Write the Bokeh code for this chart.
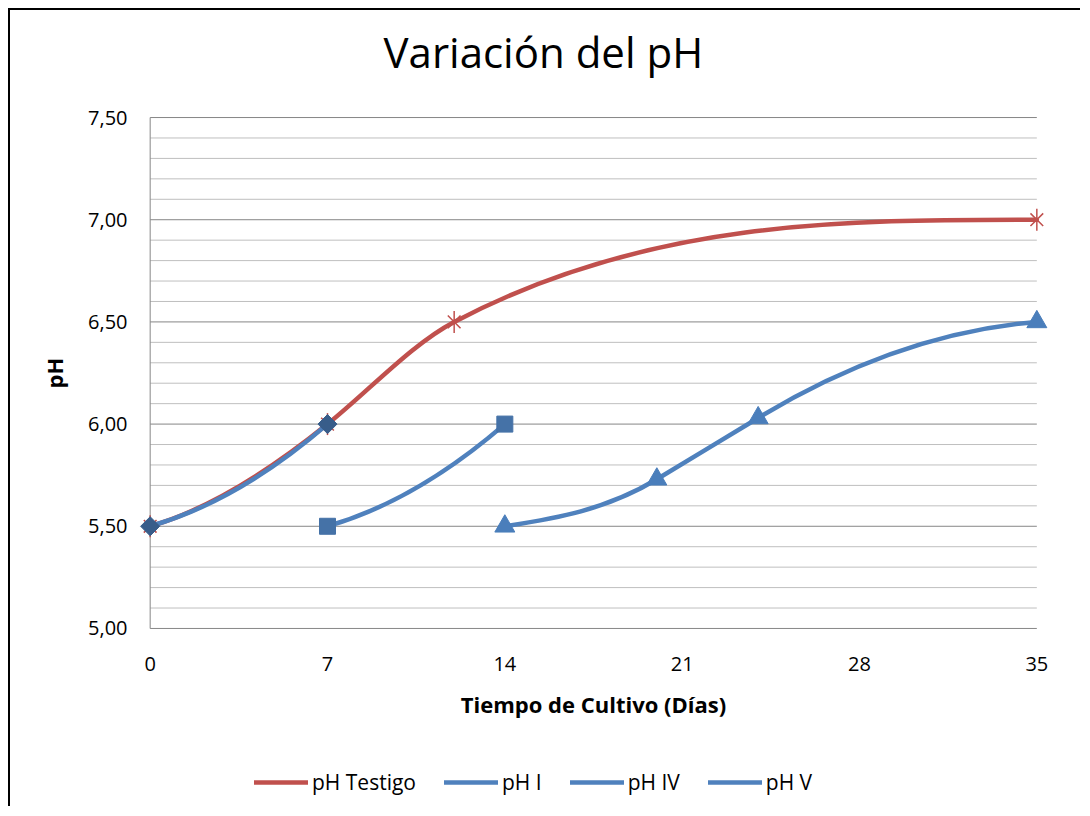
import math
from bokeh.plotting import figure
from bokeh.layouts import column
from bokeh.models import (Range1d, FixedTicker, CustomJSTickFormatter, Legend,
                          LegendItem)
from bokeh.embed import file_html
from bokeh.resources import INLINE

# ---------------- data ----------------
dias_testigo = [0, 7, 12, 35]
ph_testigo = [5.50, 6.00, 6.50, 7.00]

dias_I = [0, 7]
ph_I = [5.50, 6.00]

dias_IV = [7, 14]
ph_IV = [5.50, 6.00]

dias_V = [14, 20, 24, 35]
ph_V = [5.50, 5.73, 6.03, 6.50]

series_names = ["pH Testigo", "pH I", "pH IV", "pH V"]
x_ticks = [0, 7, 14, 21, 28, 35]
y_ticks = [5.0, 5.5, 6.0, 6.5, 7.0, 7.5]
y_minor_step = 0.1

# ---------------- styling ----------------
RED = "#C0504D"
BLUE = "#4F81BD"
FONT = "Open Sans"
LW = 4.5


def smooth_segments(xs, ys):
    """Cubic Bezier segments for a smoothed line through the points
    (monotone Hermite tangents, Fritsch-Carlson limited)."""
    n = len(xs)
    h = [xs[i + 1] - xs[i] for i in range(n - 1)]
    c = [(ys[i + 1] - ys[i]) / h[i] for i in range(n - 1)]
    s = [0.0] * n
    s[0] = 0.5 * c[0]
    for i in range(1, n - 1):
        s[i] = max(c[i - 1], c[i])
    s[n - 1] = max(0.0, 2 * c[-1] - s[n - 2])
    for i in range(n - 1):
        if c[i] == 0:
            s[i] = s[i + 1] = 0.0
            continue
        a, b = s[i] / c[i], s[i + 1] / c[i]
        r = a * a + b * b
        if r > 9:
            t = 3 / math.sqrt(r)
            s[i], s[i + 1] = t * a * c[i], t * b * c[i]
    seg = dict(x0=[], y0=[], x1=[], y1=[], cx0=[], cy0=[], cx1=[], cy1=[])
    for i in range(n - 1):
        d = h[i] / 3
        seg["x0"].append(xs[i]); seg["y0"].append(ys[i])
        seg["x1"].append(xs[i + 1]); seg["y1"].append(ys[i + 1])
        seg["cx0"].append(xs[i] + d); seg["cy0"].append(ys[i] + s[i] * d)
        seg["cx1"].append(xs[i + 1] - d); seg["cy1"].append(ys[i + 1] - s[i + 1] * d)
    return seg


p = figure(frame_width=912, frame_height=515,
           x_range=Range1d(x_ticks[0] - 0.5, x_ticks[-1] + 0.5),
           y_range=Range1d(y_ticks[0] - 0.01, y_ticks[-1] + 0.01),
           min_border_left=127, min_border_right=31,
           min_border_top=105, min_border_bottom=100,
           output_backend="svg", toolbar_location=None,
           title="Variación del pH")
p.outline_line_color = None
p.background_fill_color = "white"
p.border_fill_color = "white"
p.xgrid.visible = False
p.ygrid.visible = False

# title
p.title.text_font = FONT
p.title.text_font_size = "42px"
p.title.text_font_style = "normal"
p.title.text_color = "black"
p.title.align = "left"
p.title.offset = 246
p.title.standoff = 16
p.title.padding = (0, 0, 0, 28)

# gridlines (horizontal, between first and last x tick)
n_minor = int(round((y_ticks[-1] - y_ticks[0]) / y_minor_step))
minor_y = [y_ticks[0] + k * y_minor_step for k in range(n_minor + 1)]
minor_y = [v for v in minor_y if min(abs(v - t) for t in y_ticks) > 1e-6]
p.segment(x0=[x_ticks[0]] * len(minor_y), x1=[x_ticks[-1]] * len(minor_y),
          y0=minor_y, y1=minor_y, line_color="#BFBFBF", line_width=1)
p.segment(x0=[x_ticks[0]] * len(y_ticks), x1=[x_ticks[-1]] * len(y_ticks),
          y0=y_ticks, y1=y_ticks, line_color="#868686", line_width=1)
p.segment(x0=[x_ticks[0]], x1=[x_ticks[0]], y0=[y_ticks[0]], y1=[y_ticks[-1]],
          line_color="#868686", line_width=1)

# axes
for ax in (p.xaxis[0], p.yaxis[0]):
    ax.axis_line_color = None
    ax.major_tick_line_color = None
    ax.minor_tick_line_color = None
    ax.major_tick_out = 0
    ax.major_tick_in = 0
    ax.major_label_text_font = FONT
    ax.major_label_text_font_size = "20px"
    ax.major_label_text_color = "black"
    ax.axis_label_text_font = FONT
    ax.axis_label_text_font_style = "bold"
    ax.axis_label_text_font_size = "22px"
    ax.axis_label_text_color = "black"

p.xaxis.ticker = FixedTicker(ticks=x_ticks)
p.xaxis.axis_label = "Tiempo de Cultivo (Días)"
p.xaxis.major_label_standoff = 26
p.xaxis.axis_label_standoff = 15

p.yaxis.ticker = FixedTicker(ticks=y_ticks)
p.yaxis.formatter = CustomJSTickFormatter(code="return tick.toFixed(2).replace('.', ',');")
p.yaxis.axis_label = "pH"
p.yaxis.major_label_standoff = 10
p.yaxis.axis_label_standoff = 16

# ---------------- series ----------------
def draw_line(xs, ys, color):
    seg = smooth_segments(xs, ys)
    p.bezier(line_color=color, line_width=LW, line_cap="round", **seg)

# pH Testigo
draw_line(dias_testigo, ph_testigo, RED)
p.scatter(dias_testigo, ph_testigo, marker="x", size=18, line_color=RED, line_width=1.5)
p.scatter(dias_testigo, ph_testigo, marker="dash", angle=math.pi / 2, size=22,
          line_color=RED, line_width=1.5)
# pH I
draw_line(dias_I, ph_I, BLUE)
p.scatter(dias_I, ph_I, marker="square", angle=math.pi / 4, size=13.5,
          fill_color="#385D8A", line_color="#385D8A")
# pH IV
draw_line(dias_IV, ph_IV, BLUE)
p.scatter(dias_IV, ph_IV, marker="square", size=16,
          fill_color="#4572A7", line_color="#4572A7")
# pH V
draw_line(dias_V, ph_V, BLUE)
p.scatter(dias_V, ph_V, marker="triangle", size=20,
          fill_color="#4A7EBB", line_color="#4A7EBB")

# ---------------- legend strip (line samples only) ----------------
# the strip's ranges exclude the data, so its proxy lines stay hidden
pl = figure(width=1070, height=76, x_range=Range1d(0, 1), y_range=Range1d(0, 1),
            min_border_left=0, min_border_right=0, min_border_top=0,
            min_border_bottom=0, x_axis_location=None, y_axis_location=None,
            output_backend="svg", toolbar_location=None)
pl.outline_line_color = None
pl.grid.visible = False
pl.background_fill_color = "white"
pl.border_fill_color = "white"

series_xy = [(dias_testigo, ph_testigo), (dias_I, ph_I), (dias_IV, ph_IV), (dias_V, ph_V)]
items = []
for name, col, (sx, sy) in zip(series_names, [RED, BLUE, BLUE, BLUE], series_xy):
    r = pl.line(sx, sy, line_color=col, line_width=LW, line_cap="round")
    items.append(LegendItem(label=name, renderers=[r]))
legend = Legend(items=items, orientation="horizontal", location=(117, 10),
                glyph_width=54, glyph_height=20, label_standoff=4, spacing=28,
                padding=0, margin=0, border_line_color=None,
                background_fill_alpha=0, label_text_font=FONT,
                label_text_font_size="21px", label_text_color="black")
pl.add_layout(legend, "center")

layout = column(p, pl, spacing=0)
layout.styles = {"border-left": "2px solid black", "border-top": "2px solid black",
                 "margin-left": "8px", "margin-top": "8px"}

open("out.html", "w").write(file_html(layout, INLINE))
